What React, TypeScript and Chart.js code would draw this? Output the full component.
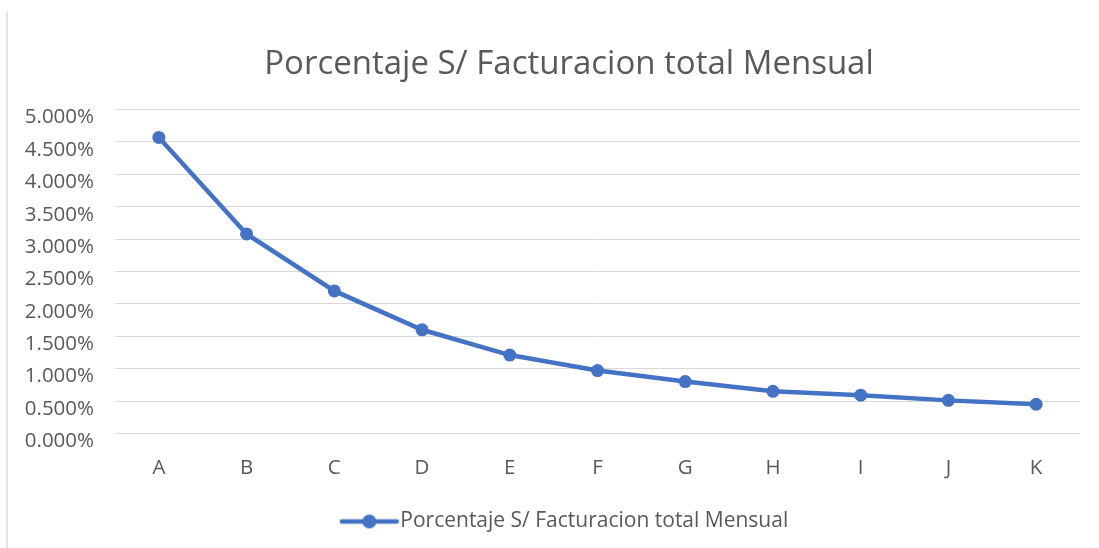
import React, { useEffect, useRef } from "react";
import { Chart, registerables } from "chart.js";

Chart.register(...registerables);

const categories = ["A", "B", "C", "D", "E", "F", "G", "H", "I", "J", "K"];
const seriesName = "Porcentaje S/ Facturacion total Mensual";
const seriesValues = [4.57, 3.08, 2.2, 1.6, 1.21, 0.97, 0.8, 0.65, 0.59, 0.51, 0.45];
const yMin = 0;
const yMax = 5;
const yStep = 0.5;

const BLUE = "#4472C4";
const TEXT = "#595959";
const GRID = "#d9d9d9";
const FONT = "'Open Sans', sans-serif";
const SMALL = 20.5;

function makeLegendIcon(): HTMLCanvasElement {
  const c = document.createElement("canvas");
  c.width = 70;
  c.height = 18;
  const ctx = c.getContext("2d")!;
  ctx.strokeStyle = BLUE;
  ctx.lineWidth = 4.5;
  ctx.lineCap = "round";
  ctx.beginPath();
  ctx.moveTo(7, 9);
  ctx.lineTo(62, 9);
  ctx.stroke();
  ctx.fillStyle = BLUE;
  ctx.beginPath();
  ctx.arc(34.5, 9, 7, 0, Math.PI * 2);
  ctx.fill();
  return c;
}

// The original chart object is wider than the visible crop: its title and
// legend are centred on a frame that starts further left than the canvas box.
const shiftBlocks = {
  id: "shiftBlocks",
  afterLayout(chart: any) {
    if (chart.titleBlock) chart.titleBlock.left = 58;
    if (chart.legend) chart.legend.left = 58;
  },
};

export default function App() {
  const ref = useRef<HTMLCanvasElement>(null);
  useEffect(() => {
    if (!ref.current) return;
    const icon = makeLegendIcon();
    const chart = new Chart(ref.current, {
      type: "line",
      data: {
        labels: categories,
        datasets: [
          {
            label: seriesName,
            data: seriesValues,
            borderColor: BLUE,
            backgroundColor: BLUE,
            borderWidth: 4.5,
            pointRadius: 6.5,
            pointHoverRadius: 6.5,
            pointBackgroundColor: BLUE,
            pointBorderColor: BLUE,
            pointBorderWidth: 0,
            tension: 0,
          },
        ],
      },
      plugins: [shiftBlocks],
      options: {
        animation: false,
        responsive: false,
        maintainAspectRatio: false,
        layout: { padding: { left: 0, right: 19, top: 0, bottom: 6 } },
        plugins: {
          title: {
            display: true,
            text: seriesName,
            color: TEXT,
            font: { family: FONT, size: 33, weight: "normal" },
            padding: { top: 45, bottom: 25 },
          },
          legend: {
            display: true,
            position: "bottom",
            labels: {
              color: TEXT,
              font: { family: FONT, size: 21 },
              usePointStyle: true,
              pointStyleWidth: 40,
              padding: 9,
              generateLabels: () => [
                {
                  text: seriesName,
                  fillStyle: BLUE,
                  strokeStyle: BLUE,
                  lineWidth: 0,
                  pointStyle: icon as any,
                  fontColor: TEXT,
                  hidden: false,
                  datasetIndex: 0,
                },
              ],
            },
          },
          tooltip: { enabled: false },
        },
        scales: {
          x: {
            offset: true,
            grid: { display: false, drawTicks: false },
            border: { display: false },
            ticks: {
              color: TEXT,
              font: { family: FONT, size: SMALL },
              padding: 22,
            },
          },
          y: {
            min: yMin,
            max: yMax,
            afterFit: (scale: any) => {
              scale.width = 115;
            },
            grid: { color: GRID, lineWidth: 1, drawTicks: false },
            border: { display: false },
            ticks: {
              stepSize: yStep,
              color: TEXT,
              font: { family: FONT, size: SMALL },
              padding: 21,
              labelOffset: 8,
              callback: (v: any) => Number(v).toFixed(3) + "%",
            },
          },
        },
      },
    });
    return () => chart.destroy();
  }, []);
  return (
    <div style={{ position: "absolute", left: 0, top: 0, width: 1099, height: 548, background: "#fff", overflow: "hidden" }}>
      <div style={{ position: "absolute", left: 6, top: 12, width: 2, height: 536, background: "#e3e3e3" }} />
      <canvas ref={ref} width={1099} height={548} style={{ position: "absolute", left: 0, top: 0 }} />
    </div>
  );
}
